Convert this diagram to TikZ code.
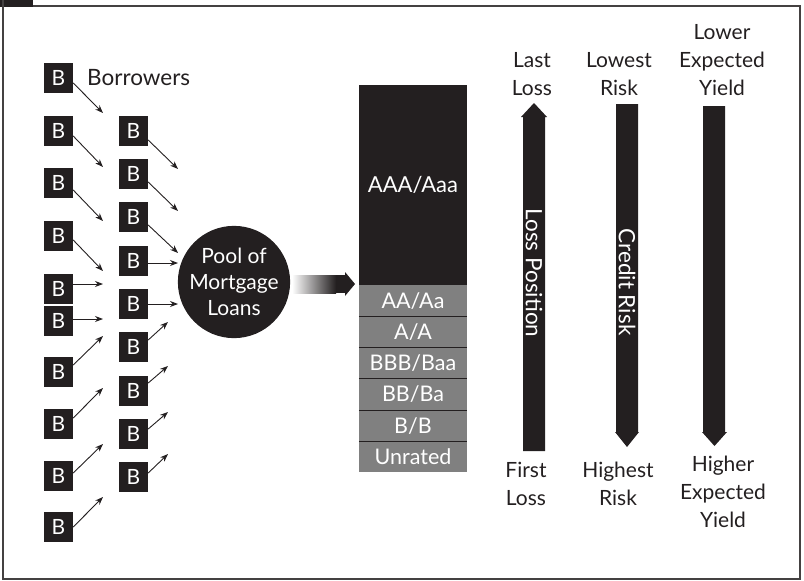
\documentclass[tikz,border=0pt]{standalone}
\usepackage{fontspec}
\setmainfont{Lato}
\usetikzlibrary{calc,arrows.meta}
\definecolor{ink}{HTML}{231F20}
\definecolor{band}{HTML}{808080}
\tikzset{
  bbox/.style={fill=ink,text=white,minimum width=29pt,minimum height=30pt,inner sep=0pt,font=\fontsize{21}{21}\selectfont},
  arr/.style={draw=ink,line width=0.9pt,-{Stealth[length=8pt,width=6pt]}},
  lbl/.style={text=ink,align=center,font=\fontsize{21}{28}\selectfont,inner sep=0pt},
  tr/.style={fill=band,text=white,minimum width=108pt,minimum height=30.8pt,inner sep=0pt,font=\fontsize{21.5}{21.5}\selectfont},
  frame/.style={draw=ink!85,line width=1.6pt}
}
\begin{document}
\begin{tikzpicture}[x=1pt,y=-1pt]
\useasboundingbox (0,0) rectangle (804,581);
% frame
\fill[ink] (0,0) rectangle (33,7);
\draw[frame] (33,6) -- (800,6) -- (800,579) -- (3,579) -- (3,0);
% column 1
\foreach \n/\y in {1/78,2/131,3/183,4/236,5/289,6/321,7/372,8/424,9/476,10/527}
  \node[bbox] (p\n) at (58.5,\y) {B};
\node[lbl,anchor=west,font=\fontsize{22.5}{28}\selectfont] (borrowers) at (87,78) {Borrowers};
% column 2
\foreach \n/\y in {1/131,2/174,3/217,4/261,5/304,6/347,7/391,8/434,9/477}
  \node[bbox] (q\n) at (133.5,\y) {B};
% arrows column 1
\foreach \n/\dy/\ex/\ey in {1/5/103/113,2/5/103/167,3/7/103/221,4/4/103/271,5/-5/103/284,6/-2/103/319,7/-7/103/336,8/-6/103/388,9/-3/103/444,10/0/103/497}{
  \coordinate (pe\n) at (\ex,\ey);
  \draw[arr] ($(p\n.east)+(0,\dy)$) -- (pe\n);
}
% arrows column 2
\foreach \n/\dy/\ex/\ey in {1/9/178/169,2/8/178/211,3/8/178/253,4/2/178/263,5/0/178/304,6/-7/168/322,7/-8/168/366,8/-5/168/412,9/-4/168/454}{
  \coordinate (qe\n) at (\ex,\ey);
  \draw[arr] ($(q\n.east)+(0,\dy)$) -- (qe\n);
}
% pool
\node[circle,fill=ink,minimum size=109pt,inner sep=0pt,text=white,align=center,font=\fontsize{21}{26}\selectfont] (pool) at (234,282) {Pool of\\Mortgage\\Loans};
% gradient arrow
\shade[left color=white,right color=ink] (292,275) rectangle (336,293);
\fill[ink] (335.5,275) rectangle (345,293);
\fill[ink] (345,272) -- (355,284) -- (345,296) -- cycle;
% tranches
\node[fill=ink,text=white,minimum width=108pt,minimum height=200pt,inner sep=0pt,font=\fontsize{22}{22}\selectfont] (aaa) at (413,185) {AAA/Aaa};
\node[tr,anchor=north] (aa) at (aaa.south) {AA/Aa};
\node[tr,anchor=north] (a) at (aa.south) {A/A};
\node[tr,anchor=north] (bbb) at (a.south) {BBB/Baa};
\node[tr,anchor=north] (bb) at (bbb.south) {BB/Ba};
\node[tr,anchor=north] (b) at (bb.south) {B/B};
\node[tr,anchor=north] (ur) at (b.south) {Unrated};
\foreach \t in {aa,a,bbb,bb,b}
  \draw[ink,line width=0.8pt] (\t.south west) -- (\t.south east);
% big arrows
\fill[ink] (523,451) -- (523,117) -- (521,117) -- (534,103) -- (547,117) -- (545,117) -- (545,451) -- cycle;
\node[rotate=-90,text=white,inner sep=0pt,font=\fontsize{22.5}{22.5}\selectfont] (lp) at (534,273) {Loss Position};
\fill[ink] (616,104) -- (616,432) -- (615,432) -- (627,447) -- (639,432) -- (638,432) -- (638,104) -- cycle;
\node[rotate=-90,text=white,inner sep=0pt,font=\fontsize{22.5}{22.5}\selectfont] (cr) at (627,282) {Credit Risk};
\fill[ink] (703,106) -- (703,432) -- (702,432) -- (714.5,446) -- (727,432) -- (725,432) -- (725,106) -- cycle;
% labels
\node[lbl] (ll) at (532,74) {Last\\Loss};
\node[lbl] (lr) at (619,74) {Lowest\\Risk};
\node[lbl] (ly) at (722,60) {Lower\\Expected\\Yield};
\node[lbl] (fl) at (526,484) {First\\Loss};
\node[lbl] (hr) at (618,484) {Highest\\Risk};
\node[lbl] (hy) at (723,492) {Higher\\Expected\\Yield};
\end{tikzpicture}
\end{document}
